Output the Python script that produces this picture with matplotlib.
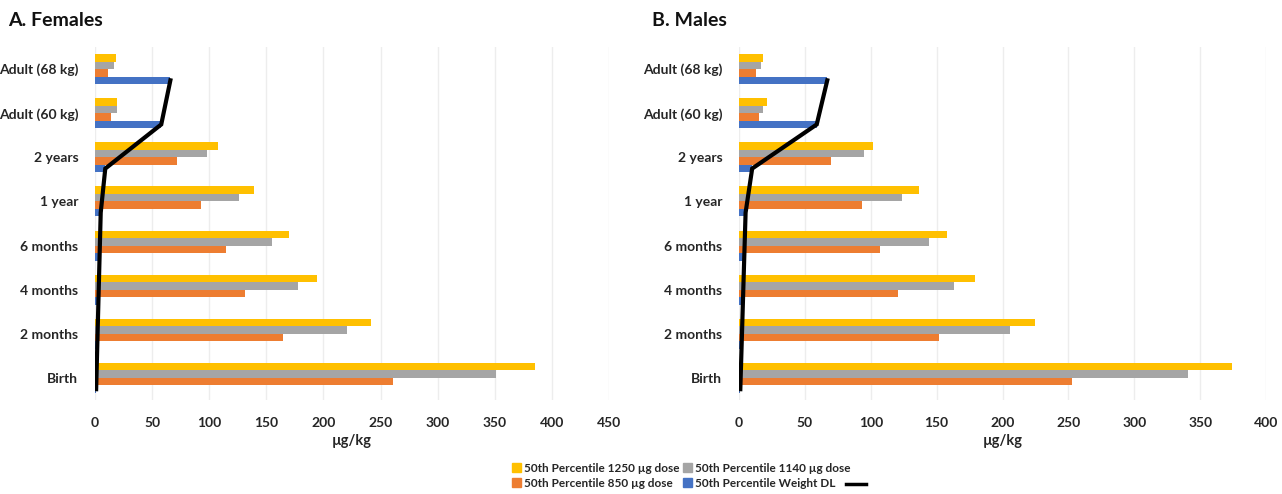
import matplotlib
matplotlib.use("Agg")
import matplotlib.pyplot as plt
import numpy as np
from matplotlib.patches import Patch
from matplotlib.lines import Line2D

plt.rcParams['font.family'] = ['Lato', 'DejaVu Sans']

categories = ["Birth", "2 months", "4 months", "6 months", "1 year", "2 years",
              "Adult (60 kg)", "Adult (68 kg)"]

# Females
f_1250 = [385, 242, 194, 170, 139, 108, 19, 18]
f_1140 = [351, 221, 178, 155, 126, 98, 19, 17]
f_850 = [261, 165, 131, 115, 93, 72, 14, 11]
f_weight = [1, 2, 3, 4, 5, 9, 58, 66]

# Males
m_1250 = [374, 225, 179, 158, 137, 102, 21, 18]
m_1140 = [341, 206, 163, 144, 124, 95, 18, 17]
m_850 = [253, 152, 121, 107, 93, 70, 15, 13]
m_weight = [1, 2, 3, 4, 5, 10, 59, 67]

series_labels = ["50th Percentile 1250 \u00b5g dose", "50th Percentile 1140 \u00b5g dose",
                 "50th Percentile 850 \u00b5g dose", "50th Percentile Weight DL"]
colors = ["#FFC000", "#A5A5A5", "#ED7D31", "#4472C4"]

female_xticks = list(range(0, 451, 50))
male_xticks = list(range(0, 401, 50))

W, H = 1282, 494
fig = plt.figure(figsize=(W / 100, H / 100), dpi=100)

def fx(px):
    return px / W

def fy(py):
    return 1 - py / H

ax_f = fig.add_axes([fx(95), fy(400), fx(609) - fx(95), fy(47) - fy(400)])
ax_m = fig.add_axes([fx(739), fy(400), fx(1266) - fx(739), fy(47) - fy(400)])

bw = 0.17
offsets = [1.5 * bw, 0.5 * bw, -0.5 * bw, -1.5 * bw]
TXT = "#262626"

def draw(ax, data, weight, xticks, xmax):
    y = np.arange(len(categories))
    for vals, off, c in zip(data + [weight], offsets, colors):
        ax.barh(y + off, vals, height=bw, color=c, zorder=2)
    ax.plot(weight, y + offsets[3], color="black", lw=3, zorder=3,
            solid_joinstyle="miter")
    ax.set_ylim(-0.5, len(categories) - 0.5)
    ax.set_xlim(0, xmax)
    ax.set_yticks(y)
    ax.set_yticklabels(categories, fontsize=10, fontweight="bold", color=TXT)
    ax.set_xticks(xticks)
    ax.set_xticklabels([str(t) for t in xticks], fontsize=10, fontweight="bold",
                       color=TXT)
    ax.tick_params(axis="y", length=0, pad=12)
    ax.tick_params(axis="x", length=0, pad=12)
    for s in ax.spines.values():
        s.set_visible(False)
    ax.grid(axis="x", color="#EDEDED", lw=1, zorder=0)
    ax.set_axisbelow(True)
    ax.set_xlabel("\u00b5g/kg", fontsize=10.5, fontweight="bold", color=TXT,
                  labelpad=4)

draw(ax_f, [f_1250, f_1140, f_850], f_weight, female_xticks, 450)
draw(ax_m, [m_1250, m_1140, m_850], m_weight, male_xticks, 400)

fig.text(fx(8), fy(21), "A. Females", fontsize=14, fontweight="bold",
         va="center", ha="left", color="#111111")
fig.text(fx(652), fy(21), "B. Males", fontsize=14, fontweight="bold",
         va="center", ha="left", color="#111111")

handles = [Patch(color=colors[i]) for i in [0, 2, 1, 3]]
labels = [series_labels[i] for i in [0, 2, 1, 3]]
leg = fig.legend(handles, labels, ncol=2, loc="center",
                 bbox_to_anchor=(fx(681), fy(476)), frameon=False,
                 handlelength=0.8, handleheight=0.8,
                 handletextpad=0.2, columnspacing=0.3, labelspacing=0.35,
                 prop={"weight": "bold", "size": 8.5})
for t in leg.get_texts():
    t.set_color(TXT)
leg2 = fig.legend([Line2D([0], [0], color="black", lw=2.5)], [""], loc="center",
                  bbox_to_anchor=(fx(856), fy(485)), frameon=False,
                  handlelength=1.4, handletextpad=0)

fig.savefig("out.png", dpi=100)
